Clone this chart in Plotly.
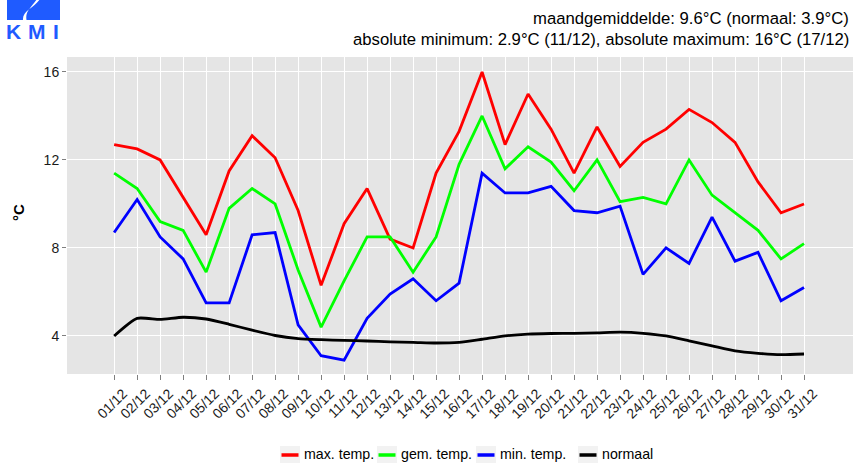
import plotly.graph_objects as go

# ---- data ----
days = list(range(1, 32))
date_labels = [f"{d:02d}/12" for d in days]

max_temp = [12.7, 12.5, 12.0, 10.3, 8.6, 11.5, 13.1, 12.1, 9.7, 6.3,
            9.1, 10.7, 8.4, 8.0, 11.4, 13.3, 16.0, 12.7, 15.0, 13.4,
            11.4, 13.5, 11.7, 12.8, 13.4, 14.3, 13.7, 12.8, 11.0, 9.6, 10.0]
gem_temp = [11.4, 10.7, 9.2, 8.8, 6.9, 9.8, 10.7, 10.0, 7.0, 4.4,
            6.5, 8.5, 8.5, 6.9, 8.5, 11.8, 14.0, 11.6, 12.6, 11.9,
            10.6, 12.0, 10.1, 10.3, 10.0, 12.0, 10.4, 9.6, 8.8, 7.5, 8.2]
min_temp = [8.7, 10.2, 8.5, 7.5, 5.5, 5.5, 8.6, 8.7, 4.5, 3.1,
            2.9, 4.8, 5.9, 6.6, 5.6, 6.4, 11.4, 10.5, 10.5, 10.8,
            9.7, 9.6, 9.9, 6.8, 8.0, 7.3, 9.4, 7.4, 7.8, 5.6, 6.2]
normaal = [4.0, 4.8, 4.75, 4.85, 4.77, 4.53, 4.26, 4.02, 3.88, 3.83,
           3.80, 3.77, 3.73, 3.71, 3.68, 3.71, 3.85, 4.0, 4.08, 4.11,
           4.12, 4.14, 4.17, 4.12, 4.0, 3.78, 3.55, 3.32, 3.21, 3.15, 3.18]

y_ticks = [4, 8, 12, 16]
series_names = ["max. temp.", "gem. temp.", "min. temp.", "normaal"]
series_colors = ["#FF0000", "#00FF00", "#0000FF", "#000000"]
title_line1 = "maandgemiddelde: 9.6°C (normaal: 3.9°C)"
title_line2 = "absolute minimum: 2.9°C (11/12), absolute maximum: 16°C (17/12)"
y_label = "°C"

# ---- layout geometry ----
W, H = 853, 463
ML, MR, MT, MB = 67, 0, 57, 89
PW, PH = W - ML - MR, H - MT - MB


def px(x):
    return (x - ML) / PW


def py(y):
    return (H - MB - y) / PH


FONT = "Liberation Sans, Arial, sans-serif"

fig = go.Figure()
for name, vals, col in zip(series_names, [max_temp, gem_temp, min_temp, normaal], series_colors):
    fig.add_trace(go.Scatter(
        x=days, y=vals, mode="lines", name=name, showlegend=False,
        hoverinfo="skip",
        line=dict(color=col, width=2.8,
                  shape="spline" if name == "normaal" else "linear",
                  smoothing=0.6),
    ))

fig.update_layout(
    width=W, height=H,
    margin=dict(l=ML, r=MR, t=MT, b=MB, autoexpand=False),
    paper_bgcolor="white",
    plot_bgcolor="#E5E5E5",
    font=dict(family=FONT, color="#4D4D4D", size=14),
    showlegend=False,
    xaxis=dict(
        range=[-1.05, 33.13], tickmode="array", tickvals=days, ticktext=date_labels,
        tickangle=-45, showgrid=True, gridcolor="white", gridwidth=1.1,
        ticks="outside", ticklen=5, tickcolor="#7F7F7F", zeroline=False,
        ticklabelshift=9,
        tickfont=dict(size=14, color="#1A1A1A"), showline=False, automargin=False,
    ),
    yaxis=dict(
        range=[2.27, 16.68], tickmode="array", tickvals=y_ticks,
        ticktext=[str(v) for v in y_ticks],
        showgrid=True, gridcolor="white", gridwidth=1.1,
        ticks="outside", ticklen=4, tickcolor="#7F7F7F", zeroline=False,
        tickfont=dict(size=14, color="#1A1A1A"), showline=False, automargin=False,
    ),
)

# titles
fig.add_annotation(text=title_line1, xref="paper", yref="paper", x=1, y=py(18),
                   xanchor="right", yanchor="middle", showarrow=False, xshift=-2,
                   font=dict(size=16.7, color="#000000"))
fig.add_annotation(text=title_line2, xref="paper", yref="paper", x=1, y=py(40),
                   xanchor="right", yanchor="middle", showarrow=False, xshift=-2,
                   font=dict(size=16.7, color="#000000"))
# y axis label
fig.add_annotation(text="<b>" + y_label + "</b>", xref="paper", yref="paper",
                   x=px(18), y=py(213), textangle=-90, showarrow=False,
                   xanchor="center", yanchor="middle",
                   font=dict(size=15, color="#000000"))

# legend (ggplot style: grey key boxes)
legend_key_x = [280, 377, 476, 578]
for name, col, kx in zip(series_names, series_colors, legend_key_x):
    fig.add_shape(type="rect", xref="paper", yref="paper",
                  x0=px(kx), x1=px(kx + 20), y0=py(465), y1=py(446),
                  fillcolor="#F2F2F2", line=dict(width=0), layer="above")
    fig.add_shape(type="line", xref="paper", yref="paper",
                  x0=px(kx + 1.5), x1=px(kx + 18.5), y0=py(455), y1=py(455),
                  line=dict(color=col, width=3.5), layer="above")
    fig.add_annotation(text=name, xref="paper", yref="paper", x=px(kx + 22), y=py(454),
                       xanchor="left", yanchor="middle", showarrow=False,
                       font=dict(size=14.2, color="#000000"))

# KMI logo (decorative)
LOGO_BLUE = "#1F5BFF"
fig.add_shape(type="rect", xref="paper", yref="paper",
              x0=px(7), x1=px(60), y0=py(20), y1=py(-1),
              fillcolor=LOGO_BLUE, line=dict(width=0), layer="above")
swoosh = (f"M {px(23)},{py(20)} C {px(22)},{py(11)} {px(34)},{py(8)} {px(40)},{py(-1)} "
          f"L {px(37)},{py(-1)} C {px(31)},{py(8)} {px(25)},{py(11)} {px(26.5)},{py(20)} Z")
fig.add_shape(type="path", xref="paper", yref="paper", path=swoosh,
              fillcolor="white", line=dict(width=0), layer="above")
for letter, cx in zip(["K", "M", "I"], [14, 37, 56]):
    fig.add_annotation(text="<b>" + letter + "</b>", xref="paper", yref="paper",
                       x=px(cx), y=py(31),
                       xanchor="center", yanchor="middle", showarrow=False,
                       font=dict(size=21, color=LOGO_BLUE, family=FONT))

fig.write_html("out.html", config={"displayModeBar": False},
               post_script="document.body.style.margin='0px';")
